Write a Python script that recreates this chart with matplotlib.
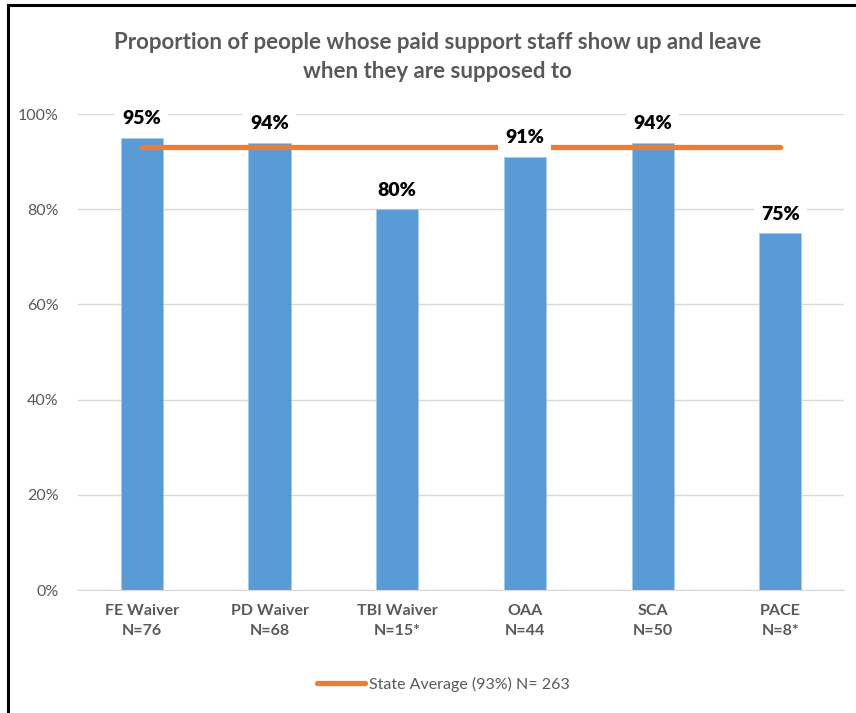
import matplotlib.pyplot as plt
from matplotlib.lines import Line2D

programs = ["FE Waiver\nN=76", "PD Waiver\nN=68", "TBI Waiver\nN=15*", "OAA\nN=44", "SCA\nN=50", "PACE\nN=8*"]
values = [95, 94, 80, 91, 94, 75]
state_avg = 93
avg_label = "State Average (93%) N= 263"

plt.rcParams["font.family"] = ["Lato", "DejaVu Sans"]
grey = "#595959"

fig = plt.figure(figsize=(8.56, 7.13), dpi=100)
ax = fig.add_axes([0.0911, 0.1725, 0.895, 0.6675])

x = range(len(programs))
ax.bar(x, [v / 100 for v in values], width=0.33, color="#5b9bd5",
       edgecolor="#a9c9ea", linewidth=0.6, zorder=2)

ax.plot([0, len(programs) - 1], [state_avg / 100] * 2, color="#ed7d31", lw=3.8,
        solid_capstyle="round", zorder=3, label=avg_label)

for i, v in enumerate(values):
    ax.text(i, v / 100 + 0.04, f"{v}%", ha="center", va="center", fontsize=14,
            fontweight="heavy", color="#000000", zorder=5,
            bbox=dict(facecolor="white", edgecolor="none", pad=5))

ax.set_xlim(-0.5, len(programs) - 0.5)
ax.set_ylim(0, 1)
ax.set_yticks([0, 0.2, 0.4, 0.6, 0.8, 1.0])
ax.set_yticklabels(["0%", "20%", "40%", "60%", "80%", "100%"])
ax.set_xticks(list(x))
ax.set_xticklabels(programs, fontweight="bold", linespacing=1.6)
ax.tick_params(axis="y", length=0, pad=14, labelsize=11.5, labelcolor=grey)
ax.tick_params(axis="x", length=0, pad=10, labelsize=11.5, labelcolor=grey)
ax.grid(axis="y", color="#d9d9d9", lw=1, zorder=0)
ax.set_axisbelow(True)
for side in ["top", "right", "left"]:
    ax.spines[side].set_visible(False)
ax.spines["bottom"].set_color("#d9d9d9")

fig.text(0.511, 0.920, "Proportion of people whose paid support staff show up and leave\nwhen they are supposed to",
         ha="center", va="center", fontsize=16, fontweight="bold", color=grey, linespacing=1.45)

leg = fig.legend(loc="center", bbox_to_anchor=(0.518, 0.04), frameon=False,
                 fontsize=11.5, handlelength=3, handletextpad=0.3)
for t in leg.get_texts():
    t.set_color(grey)

# frame edges on the left and top
fig.add_artist(Line2D([0.0093, 0.0093], [0, 0.993], color="black", lw=2.2))
fig.add_artist(Line2D([0.0093, 1], [0.993, 0.993], color="black", lw=2.2))

fig.savefig("out.png", dpi=100)
